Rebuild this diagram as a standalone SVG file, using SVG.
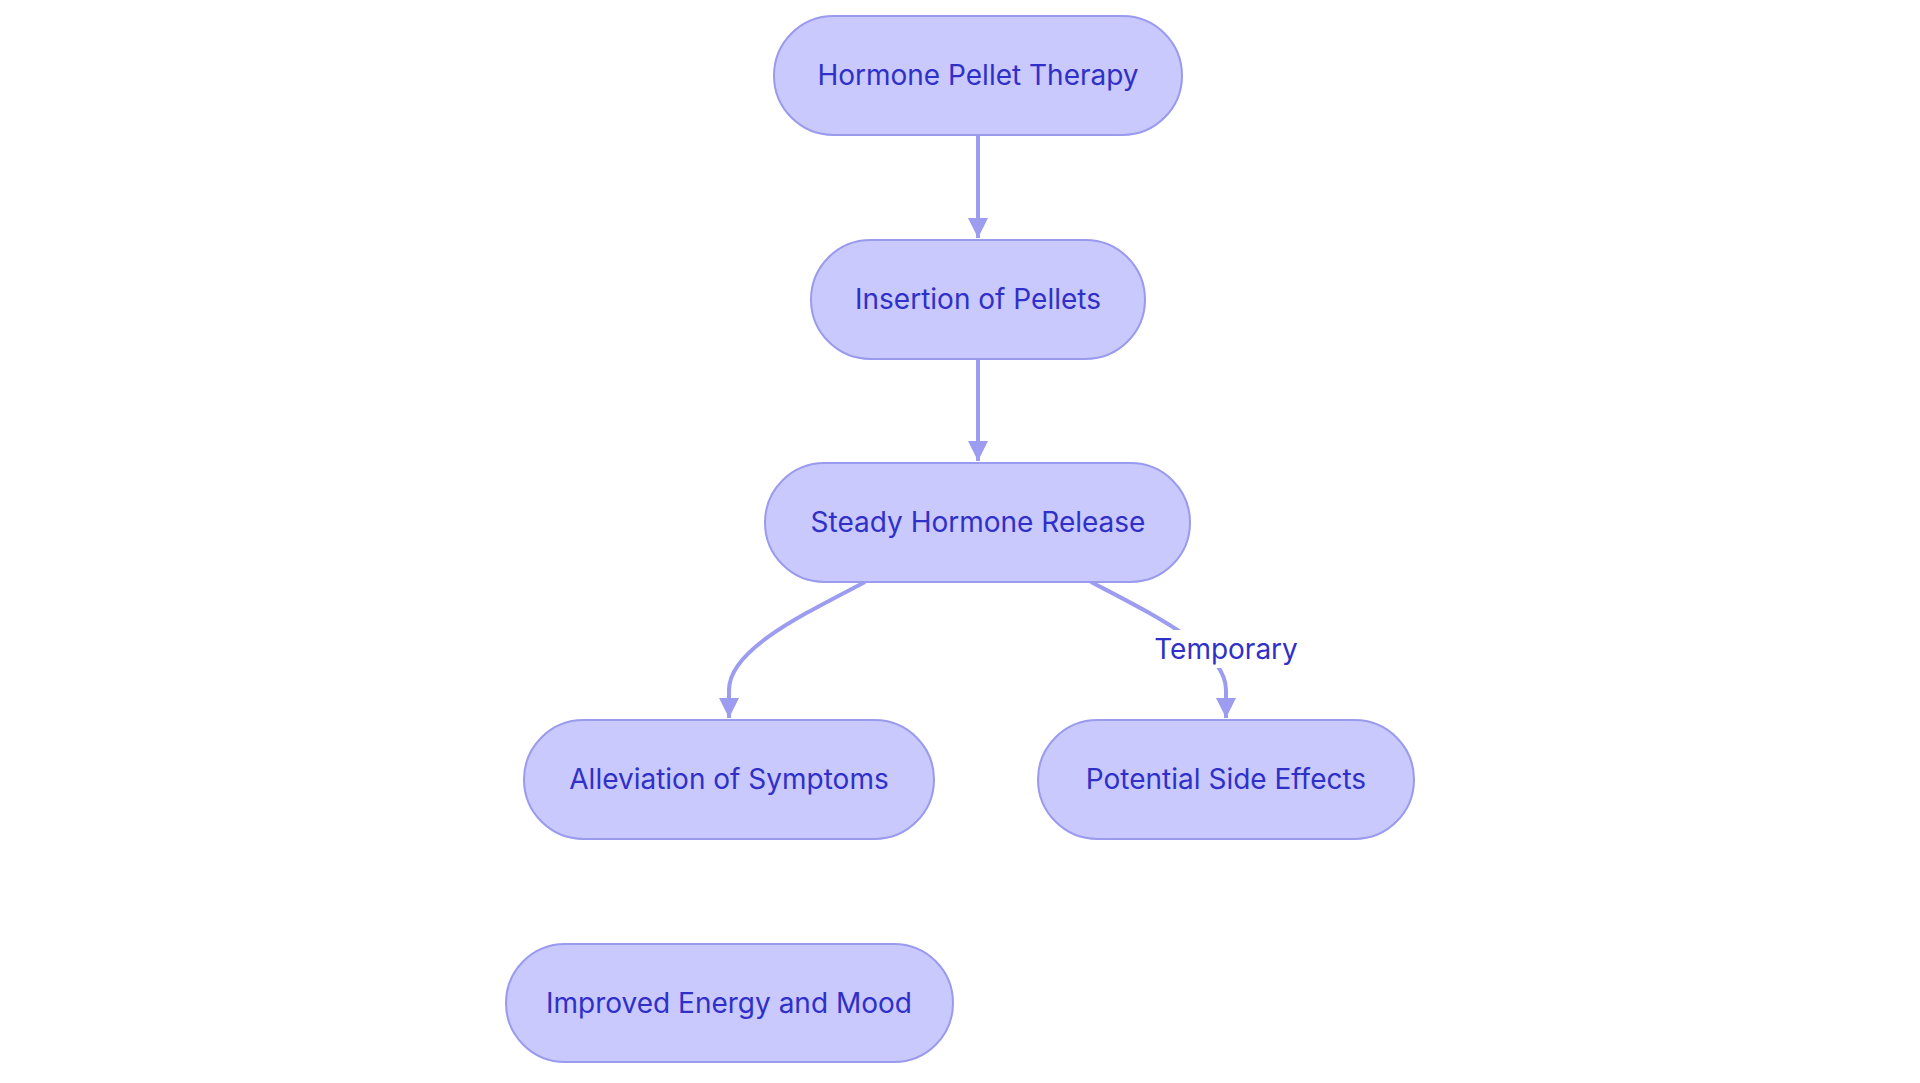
<svg xmlns="http://www.w3.org/2000/svg" width="1920" height="1083" viewBox="0 0 1920 1083">
<style>
.n rect{fill:#c9c9fd;stroke:#9a9aee;stroke-width:2}
.n text,.lbl{font-family:Inter,"Liberation Sans",sans-serif;font-size:28px;fill:#3030c8;text-anchor:middle;dominant-baseline:central}
.e path{fill:none;stroke:#9c9cf0;stroke-width:4}
</style>
<defs><marker id="a" viewBox="0 0 10 10" refX="10" refY="5" markerWidth="5" markerHeight="5" orient="auto" markerUnits="strokeWidth"><path d="M0,0L10,5L0,10z" fill="#9c9cf0"/></marker></defs>
<rect width="1920" height="1083" fill="#fff"/>
<g class="e">
<path d="M978,135V238" marker-end="url(#a)"/>
<path d="M978,359V461" marker-end="url(#a)"/>
<path d="M865,582C800,616 729,650 729,690V718" marker-end="url(#a)"/>
<path d="M1091,582C1156,616 1226,650 1226,690V718" marker-end="url(#a)"/>
</g>
<rect x="1152" y="630" width="148" height="38" fill="#fff"/>
<text class="lbl" x="1226" y="649">Temporary</text>
<g id="n1" class="n"><rect x="774" y="16" width="408" height="119" rx="59.5"/><text x="978" y="75">Hormone Pellet Therapy</text></g>
<g id="n2" class="n"><rect x="811" y="240" width="334" height="119" rx="59.5"/><text x="978" y="299">Insertion of Pellets</text></g>
<g id="n3" class="n"><rect x="765" y="463" width="425" height="119" rx="59.5"/><text x="978" y="522">Steady Hormone Release</text></g>
<g id="n4" class="n"><rect x="524" y="720" width="410" height="119" rx="59.5"/><text x="729" y="779">Alleviation of Symptoms</text></g>
<g id="n5" class="n"><rect x="1038" y="720" width="376" height="119" rx="59.5"/><text x="1226" y="779">Potential Side Effects</text></g>
<g id="n6" class="n"><rect x="506" y="944" width="447" height="118" rx="59"/><text x="729" y="1003">Improved Energy and Mood</text></g>
</svg>
